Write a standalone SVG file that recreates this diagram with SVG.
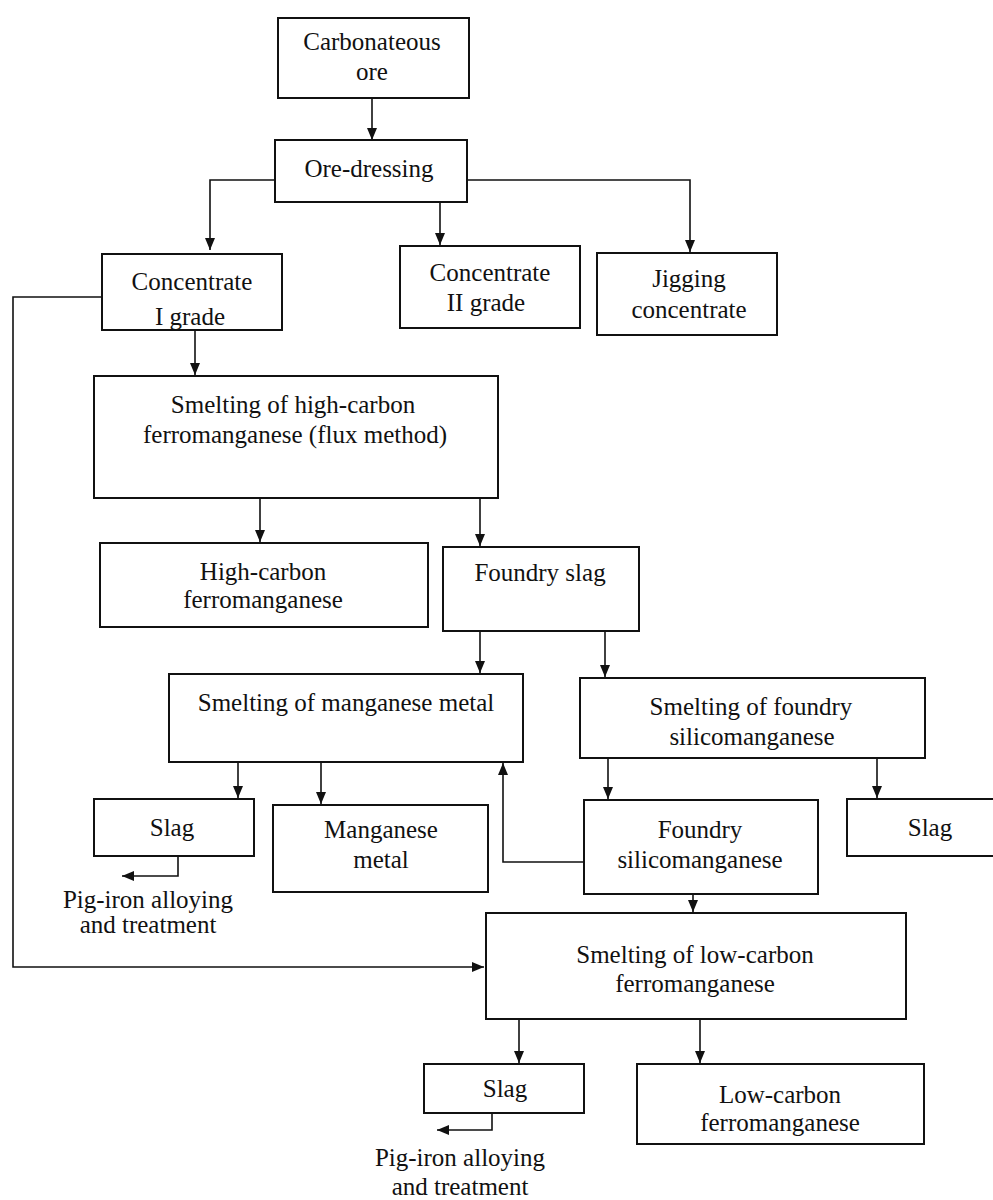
<svg xmlns="http://www.w3.org/2000/svg" width="993" height="1200" viewBox="0 0 993 1200">
<style>
.b{fill:#fff;stroke:#111;stroke-width:2}
.t{font-family:"Liberation Serif","Times New Roman",serif;font-size:25px;fill:#111;text-anchor:middle}
.c{fill:none;stroke:#111;stroke-width:1.6}
</style>
<defs>
<marker id="ah" viewBox="0 0 12 10" refX="12" refY="5" markerWidth="12" markerHeight="10" markerUnits="userSpaceOnUse" orient="auto">
<path d="M0,0 L12,5 L0,10 Z" fill="#111"/>
</marker>
</defs>
<rect width="993" height="1200" fill="#fff"/>
<g id="connectors">
<path class="c" d="M372,98 V140" marker-end="url(#ah)"/>
<path class="c" d="M275,180 H210 V250" marker-end="url(#ah)"/>
<path class="c" d="M440,202 V245" marker-end="url(#ah)"/>
<path class="c" d="M467,180 H690 V252" marker-end="url(#ah)"/>
<path class="c" d="M102,297 H13 V967 H484" marker-end="url(#ah)"/>
<path class="c" d="M195,330 V375" marker-end="url(#ah)"/>
<path class="c" d="M260,498 V542" marker-end="url(#ah)"/>
<path class="c" d="M480,498 V546" marker-end="url(#ah)"/>
<path class="c" d="M480,631 V673" marker-end="url(#ah)"/>
<path class="c" d="M605,631 V677" marker-end="url(#ah)"/>
<path class="c" d="M238,762 V798" marker-end="url(#ah)"/>
<path class="c" d="M321,762 V804" marker-end="url(#ah)"/>
<path class="c" d="M608,758 V799" marker-end="url(#ah)"/>
<path class="c" d="M877,758 V798" marker-end="url(#ah)"/>
<path class="c" d="M584,862 H503 V763" marker-end="url(#ah)"/>
<path class="c" d="M178,856 V876 H122" marker-end="url(#ah)"/>
<path class="c" d="M693,894 V912" marker-end="url(#ah)"/>
<path class="c" d="M519,1019 V1063" marker-end="url(#ah)"/>
<path class="c" d="M700,1019 V1063" marker-end="url(#ah)"/>
<path class="c" d="M492,1113 V1130 H437" marker-end="url(#ah)"/>
</g>
<g id="n-carbonateous-ore"><rect class="b" x="278" y="18" width="191" height="80"/><text class="t" x="372" y="50">Carbonateous</text><text class="t" x="372" y="80">ore</text></g>
<g id="n-ore-dressing"><rect class="b" x="275" y="140" width="192" height="62"/><text class="t" x="369" y="177">Ore-dressing</text></g>
<g id="n-conc-1"><rect class="b" x="102" y="254" width="180" height="76"/><text class="t" x="192" y="290">Concentrate</text><text class="t" x="190" y="325">I grade</text></g>
<g id="n-conc-2"><rect class="b" x="400" y="246" width="180" height="82"/><text class="t" x="490" y="281">Concentrate</text><text class="t" x="486" y="311">II grade</text></g>
<g id="n-jigging"><rect class="b" x="597" y="253" width="180" height="82"/><text class="t" x="689" y="287">Jigging</text><text class="t" x="689" y="318">concentrate</text></g>
<g id="n-smelt-hc"><rect class="b" x="94" y="376" width="404" height="122"/><text class="t" x="293" y="413">Smelting of high-carbon</text><text class="t" x="295" y="443">ferromanganese (flux method)</text></g>
<g id="n-hc-fm"><rect class="b" x="100" y="543" width="328" height="84"/><text class="t" x="263" y="580">High-carbon</text><text class="t" x="263" y="608">ferromanganese</text></g>
<g id="n-foundry-slag"><rect class="b" x="443" y="547" width="196" height="84"/><text class="t" x="540" y="581">Foundry slag</text></g>
<g id="n-smelt-mn"><rect class="b" x="169" y="674" width="354" height="88"/><text class="t" x="346" y="711">Smelting of manganese metal</text></g>
<g id="n-smelt-fsm"><rect class="b" x="580" y="678" width="345" height="80"/><text class="t" x="751" y="715">Smelting of foundry</text><text class="t" x="752" y="745">silicomanganese</text></g>
<g id="n-slag-1"><rect class="b" x="94" y="799" width="160" height="57"/><text class="t" x="172" y="836">Slag</text></g>
<g id="n-mn-metal"><rect class="b" x="273" y="805" width="215" height="87"/><text class="t" x="381" y="838">Manganese</text><text class="t" x="381" y="868">metal</text></g>
<g id="n-fsm"><rect class="b" x="584" y="800" width="234" height="94"/><text class="t" x="700" y="838">Foundry</text><text class="t" x="700" y="868">silicomanganese</text></g>
<g id="n-slag-2"><rect class="b" x="847" y="799" width="150" height="57"/><text class="t" x="930" y="836">Slag</text></g>
<g id="n-pig-1"><text class="t" x="148" y="908">Pig-iron alloying</text><text class="t" x="148" y="933">and treatment</text></g>
<g id="n-smelt-lc"><rect class="b" x="486" y="913" width="420" height="106"/><text class="t" x="695" y="963">Smelting of low-carbon</text><text class="t" x="695" y="992">ferromanganese</text></g>
<g id="n-slag-3"><rect class="b" x="424" y="1064" width="160" height="49"/><text class="t" x="505" y="1097">Slag</text></g>
<g id="n-lc-fm"><rect class="b" x="637" y="1064" width="287" height="80"/><text class="t" x="780" y="1103">Low-carbon</text><text class="t" x="780" y="1131">ferromanganese</text></g>
<g id="n-pig-2"><text class="t" x="460" y="1166">Pig-iron alloying</text><text class="t" x="460" y="1195">and treatment</text></g>
</svg>
